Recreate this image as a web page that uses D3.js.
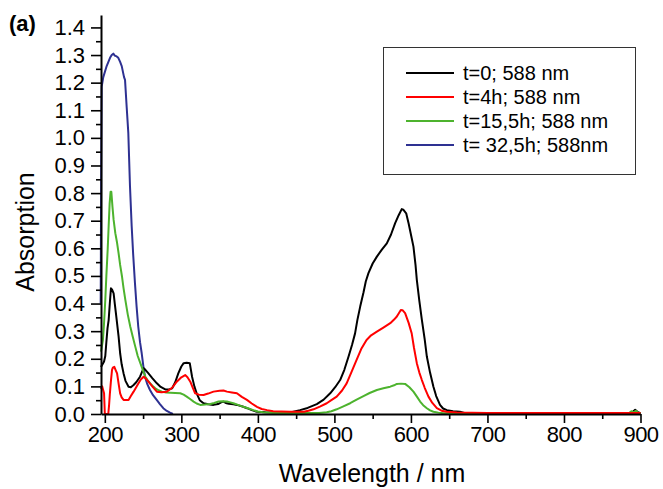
<!DOCTYPE html>
<html>
<head>
<meta charset="utf-8">
<script src="https://cdn.jsdelivr.net/npm/d3@7"></script>
<style>
  html, body { margin: 0; padding: 0; background: #fff; }
  svg text { font-family: "Liberation Sans", Arial, sans-serif; fill: #000; }
</style>
</head>
<body>
<svg id="chart" width="663" height="489"></svg>
<script>
// UV-Vis absorption spectra, [wavelength (nm), absorption]
const spectrumT0 = [
  [195,0.17],[197,0.18],[199,0.19],[200.6,0.21],[202,0.26],[203.5,0.31],[205,0.34],[206.5,0.40],[208,0.455],[209.5,0.45],
  [211.5,0.437],[213,0.40],[215,0.353],[218,0.28],[220,0.22],[222,0.18],[224.5,0.147],[227,0.12],[231,0.099],[234,0.097],
  [237.6,0.105],[241,0.115],[246,0.135],[249,0.155],[250.7,0.166],[253,0.16],[257,0.147],[262,0.13],[268,0.111],[273,0.098],
  [279,0.089],[284,0.089],[288,0.093],[292,0.115],[296,0.147],[300,0.172],[303,0.184],[307,0.186],[311,0.184],[314,0.135],
  [317,0.1],[320,0.075],[324,0.05],[329,0.039],[335,0.035],[342,0.033],[348,0.036],[352,0.042],[355,0.045],[358,0.04],
  [362,0.037],[368,0.035],[372.6,0.033],[380,0.027],[386,0.021],[392,0.014],[399,0.008],[410,0.006],[430,0.005],[445,0.007],
  [455,0.014],[465,0.022],[477,0.036],[486,0.052],[494.5,0.075],[501,0.097],[507.5,0.123],[513,0.16],[518.5,0.208],[523,0.25],
  [527,0.292],[530,0.34],[533.7,0.389],[538,0.44],[541,0.48],[544.5,0.51],[550,0.545],[555.5,0.57],[562,0.595],[568.5,0.618],
  [574,0.65],[579.4,0.691],[584,0.72],[588,0.742],[590,0.74],[593.8,0.727],[597,0.69],[600,0.65],[603.3,0.606],[606,0.54],
  [607.7,0.486],[611,0.41],[614.3,0.341],[618,0.27],[620.8,0.208],[625,0.15],[629.4,0.099],[633,0.065],[638,0.033],[642,0.02],
  [647,0.014],[655,0.01],[664,0.008],[670,0.004],[700,0.003],[800,0.003],[885,0.003],[890,0.008],[893,0.015],[896,0.008],[900,0.003]
];

const spectrumT4h = [
  [195,0.09],[196.5,0.1],[198,0.085],[199,0.075],[200,0.0],[201,0.0],[203.5,0.0],[204.5,0.0],[205.5,0.03],[206.5,0.07],
  [208,0.12],[209.4,0.16],[210.5,0.168],[212.4,0.171],[214,0.16],[216,0.147],[218,0.11],[220,0.075],[222,0.06],[224.5,0.051],
  [231,0.051],[234,0.065],[237.6,0.081],[241,0.097],[244,0.111],[247,0.125],[250.7,0.135],[253,0.13],[257,0.117],[262,0.1],
  [268,0.081],[274,0.079],[281,0.081],[288,0.095],[294,0.117],[300,0.133],[305,0.141],[308,0.133],[311.7,0.117],[315,0.095],
  [318,0.075],[323,0.07],[329,0.069],[335,0.074],[342,0.081],[350,0.084],[355,0.085],[359.6,0.081],[366,0.078],[372.6,0.075],
  [379,0.062],[385.7,0.051],[392,0.038],[398.8,0.026],[405,0.018],[412,0.014],[420,0.01],[442,0.008],[460,0.008],[466,0.012],
  [472.7,0.017],[481,0.027],[490,0.039],[496,0.05],[503,0.063],[510,0.085],[516,0.111],[522,0.15],[529,0.196],[535,0.235],
  [542,0.268],[548,0.285],[555.5,0.298],[564,0.313],[573,0.329],[578,0.342],[581.6,0.353],[586.8,0.377],[589,0.376],[592.4,0.365],
  [597,0.33],[601,0.292],[604,0.24],[607.7,0.184],[611,0.15],[614.3,0.123],[618,0.095],[622.9,0.063],[628,0.04],[633.9,0.021],
  [640,0.012],[647,0.008],[660,0.005],[700,0.004],[800,0.004],[900,0.004]
];

const spectrumT15h = [
  [195,0.226],[197.5,0.268],[199,0.33],[200.6,0.413],[202,0.5],[203.7,0.594],[205,0.68],[206.3,0.763],[207.5,0.805],[208.5,0.805],
  [210,0.75],[211.5,0.703],[213.7,0.655],[216,0.62],[218,0.582],[220,0.54],[222.5,0.497],[224.5,0.455],[226.8,0.413],[230,0.36],
  [233.3,0.316],[236.5,0.28],[239.8,0.244],[243,0.21],[246.4,0.184],[250,0.157],[253,0.135],[256,0.122],[259.4,0.111],[263,0.1],
  [266,0.093],[270,0.086],[274.7,0.081],[280,0.078],[285.5,0.077],[292,0.076],[298.6,0.075],[303,0.07],[307,0.063],[311,0.055],
  [316,0.045],[320,0.038],[324.7,0.033],[331,0.034],[337.8,0.036],[343,0.04],[348.6,0.045],[354,0.046],[359.6,0.045],[364,0.042],
  [368,0.039],[375,0.032],[381,0.026],[388,0.02],[394,0.014],[400,0.009],[407,0.006],[420,0.004],[480,0.004],[490,0.006],
  [496,0.01],[503,0.017],[511,0.027],[520.6,0.039],[529,0.052],[538,0.065],[546,0.076],[555.5,0.087],[564,0.093],[572.9,0.099],
  [578,0.104],[581.6,0.109],[587,0.11],[592.4,0.109],[598,0.097],[603.3,0.081],[608,0.062],[612,0.045],[616,0.032],[620.8,0.021],
  [625,0.013],[629.4,0.008],[636,0.005],[642.5,0.003],[700,0.003],[800,0.003],[885,0.003],[888,0.01],[891,0.006],[894,0.012],
  [897,0.004],[900,0.003]
];

const spectrumT32h = [
  [194.6,0.40],[195.2,0.85],[195.9,1.186],[198,1.22],[202.4,1.26],[206.8,1.29],[209,1.30],[211.1,1.305],[213,1.298],[215.5,1.295],
  [217.6,1.29],[220,1.275],[222.1,1.26],[225.1,1.22],[226.4,1.21],[228.6,1.11],[230.7,1.017],[232.9,0.824],[235.1,0.68],[237,0.58],
  [239.4,0.473],[241.5,0.39],[243.7,0.316],[246,0.26],[248.2,0.22],[250.5,0.17],[252.5,0.135],[255.5,0.108],[259,0.087],[263,0.068],
  [267.8,0.051],[272,0.036],[276.4,0.021],[281,0.011],[285.2,0.005],[289,0.0]
];

const seriesLabels = ["t=0; 588 nm", "t=4h; 588 nm", "t=15,5h; 588 nm", "t= 32,5h; 588nm"];
const seriesColors = ["#000000", "#ff0000", "#4db32e", "#2e3192"];
const seriesData = [spectrumT0, spectrumT4h, spectrumT15h, spectrumT32h];

const xMajorTicks = [200, 300, 400, 500, 600, 700, 800, 900];
const xMinorTicks = [250, 350, 450, 550, 650, 750, 850];
const yMajorTicks = [0, 0.1, 0.2, 0.3, 0.4, 0.5, 0.6, 0.7, 0.8, 0.9, 1.0, 1.1, 1.2, 1.3, 1.4];
const yMinorTicks = [0.05, 0.15, 0.25, 0.35, 0.45, 0.55, 0.65, 0.75, 0.85, 0.95, 1.05, 1.15, 1.25, 1.35];

const svg = d3.select("#chart");
svg.append("rect").attr("width", 663).attr("height", 489).attr("fill", "#fff");

const x = d3.scaleLinear().domain([195, 900]).range([101, 640.5]);
const y = d3.scaleLinear().domain([0, 1.445]).range([414, 15]);

// spectra (red drawn last so it sits on top along the baseline)
const line = d3.line().x(d => x(d[0])).y(d => y(d[1]));
const drawOrder = [3, 0, 2, 1];
drawOrder.forEach(i => {
  svg.append("path")
    .datum(seriesData[i])
    .attr("fill", "none")
    .attr("stroke", seriesColors[i])
    .attr("stroke-width", 2)
    .attr("stroke-linejoin", "round")
    .attr("d", line);
});

const tickFont = 22;

// x axis
const xAxisG = svg.append("g").attr("transform", "translate(0,414)");
xAxisG.call(d3.axisBottom(x).tickValues(xMajorTicks).tickSize(9).tickSizeOuter(0).tickPadding(3).tickFormat(d3.format("d")));
xAxisG.append("g").call(d3.axisBottom(x).tickValues(xMinorTicks).tickSize(5).tickSizeOuter(0).tickFormat(""))
  .select(".domain").remove();
xAxisG.selectAll(".domain").attr("stroke", "#000").attr("stroke-width", 2);
xAxisG.selectAll(".tick line").attr("stroke", "#000").attr("stroke-width", 1.6);
xAxisG.selectAll(".tick text").attr("font-size", tickFont).attr("font-family", "Liberation Sans, Arial, sans-serif")
  .attr("fill", "#000").attr("letter-spacing", -0.5);

// y axis
const yAxisG = svg.append("g").attr("transform", "translate(101,0)");
yAxisG.call(d3.axisLeft(y).tickValues(yMajorTicks).tickSize(10).tickSizeOuter(0).tickPadding(6).tickFormat(d3.format(".1f")));
yAxisG.append("g").call(d3.axisLeft(y).tickValues(yMinorTicks).tickSize(5).tickSizeOuter(0).tickFormat(""))
  .select(".domain").remove();
yAxisG.selectAll(".domain").attr("stroke", "#000").attr("stroke-width", 2);
yAxisG.selectAll(".tick line").attr("stroke", "#000").attr("stroke-width", 1.6);
yAxisG.selectAll(".tick text").attr("font-size", tickFont).attr("font-family", "Liberation Sans, Arial, sans-serif")
  .attr("fill", "#000");

// axis titles
svg.append("text")
  .attr("x", 372).attr("y", 482)
  .attr("text-anchor", "middle")
  .attr("font-size", 25)
  .text("Wavelength / nm");

svg.append("text")
  .attr("transform", "translate(34,232) rotate(-90)")
  .attr("text-anchor", "middle")
  .attr("font-size", 25)
  .text("Absorption");

// panel label
svg.append("text")
  .attr("x", 9).attr("y", 31)
  .attr("font-size", 22)
  .attr("font-weight", "bold")
  .text("(a)");

// legend
const legend = svg.append("g");
legend.append("rect")
  .attr("x", 383.5).attr("y", 47.5).attr("width", 252).attr("height", 127)
  .attr("fill", "#fff").attr("stroke", "#333").attr("stroke-width", 1);
seriesLabels.forEach((label, i) => {
  const ly = 73 + i * 24;
  legend.append("line")
    .attr("x1", 406).attr("x2", 454).attr("y1", ly).attr("y2", ly)
    .attr("stroke", seriesColors[i]).attr("stroke-width", 2);
  legend.append("text")
    .attr("x", 463).attr("y", ly)
    .attr("dominant-baseline", "central")
    .attr("font-size", 20)
    .text(label);
});
</script>
</body>
</html>
